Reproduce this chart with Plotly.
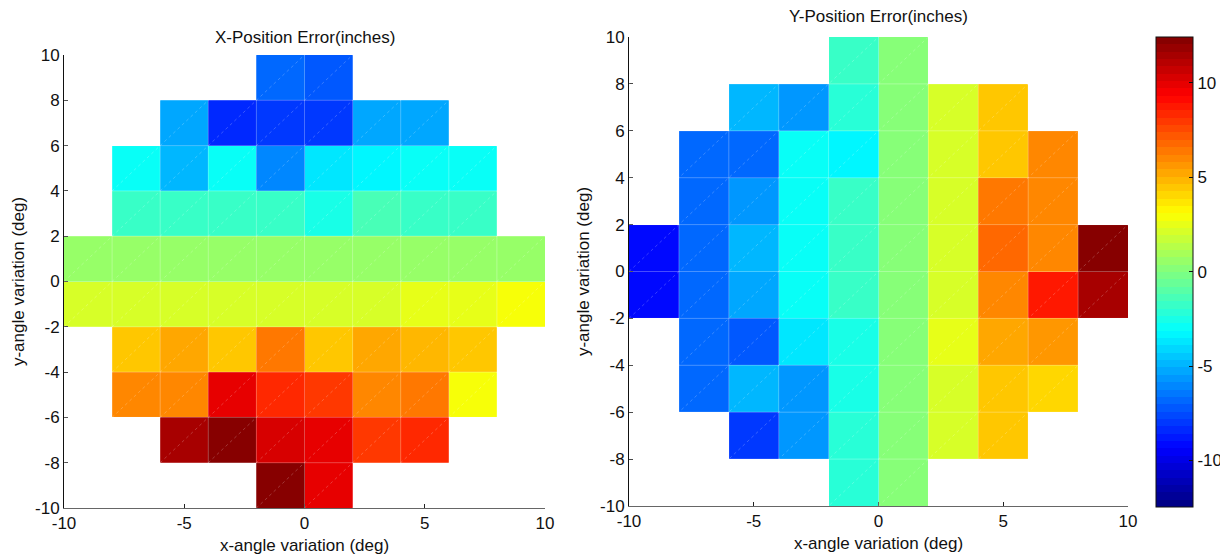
import plotly.graph_objects as go

N = None
x_centers = [-9, -7, -5, -3, -1, 1, 3, 5, 7, 9]
y_centers = [9, 7, 5, 3, 1, -1, -3, -5, -7, -9]

x_err = [
    [N, N, N, N, -7.0, -7.1, N, N, N, N],
    [N, N, -5.2, -8.2, -7.8, -8.0, -5.2, -5.1, N, N],
    [N, -3.1, -4.7, -3.1, -6.2, -3.7, -3.2, -3.1, -3.1, N],
    [N, -1.6, -1.6, -1.6, -1.6, -2.7, -1.2, -1.8, -1.6, N],
    [0.4, 0.4, 0.4, 0.4, 0.4, 0.4, 0.4, 0.4, 0.4, 0.4],
    [2.3, 2.3, 2.3, 2.3, 2.3, 2.3, 2.3, 2.5, 2.7, 3.1],
    [N, 4.3, 5.4, 4.3, 6.6, 4.3, 5.4, 5.0, 4.3, N],
    [N, 6.2, 6.2, 9.8, 8.2, 7.8, 6.2, 6.3, 3.1, N],
    [N, N, 11.6, 12.1, 10.2, 10.1, 7.8, 8.2, N, N],
    [N, N, N, N, 12.4, 9.8, N, N, N, N],
]

y_err = [
    [N, N, N, N, -1.6, 0.3, N, N, N, N],
    [N, N, -5.0, -5.5, -2.3, 0.3, 2.3, 4.3, N, N],
    [N, -6.8, -7.0, -3.1, -3.4, 0.3, 2.3, 4.3, 6.2, N],
    [N, -7.0, -5.5, -3.1, -1.6, 0.3, 2.3, 6.4, 6.2, N],
    [-9.3, -7.0, -5.0, -3.1, -1.6, 0.3, 2.3, 6.8, 6.2, 12.4],
    [-9.3, -7.0, -5.4, -3.1, -1.6, 0.3, 2.3, 6.0, 8.6, 11.3],
    [N, -7.0, -7.2, -3.7, -2.7, 0.3, 2.7, 5.4, 5.8, N],
    [N, -7.0, -5.0, -5.5, -2.7, 0.3, 2.3, 4.3, 3.9, N],
    [N, N, -7.8, -5.8, -2.3, 0.3, 2.3, 4.3, N, N],
    [N, N, N, N, -2.3, 0.3, N, N, N, N],
]

x_ticks = [-10, -5, 0, 5, 10]
y_ticks = [-10, -8, -6, -4, -2, 0, 2, 4, 6, 8, 10]
cbar_ticks = [-10, -5, 0, 5, 10]
c_min, c_max = -12.45, 12.45


def labels(vals):  # MATLAB-style labels with a plain hyphen minus
    return [str(v) for v in vals]


def jet(t):
    def seg(v):
        return max(0.0, min(1.0, v))
    r = seg(min(4 * t - 1.5, -4 * t + 4.5))
    g = seg(min(4 * t - 0.5, -4 * t + 3.5))
    b = seg(min(4 * t + 0.5, -4 * t + 2.5))
    return "rgb(%d,%d,%d)" % (round(r * 255), round(g * 255), round(b * 255))


n_levels = 64
jet_scale = []
for k in range(n_levels):
    c = jet((k + 0.5) / n_levels)
    jet_scale.append([k / n_levels, c])
    jet_scale.append([(k + 1) / n_levels, c])

FONT = "Liberation Sans, Arial, sans-serif"
FS = 17

# page has an 8px body margin; figure sized to fill the rest of the window
OFF = 8
W, H = 1228 - OFF, 558 - OFF


def px(p):  # page x pixel -> paper fraction
    return (p - OFF) / W


def py(p):  # page y pixel -> paper fraction
    return 1 - (p - OFF) / H


fig = go.Figure()
fig.add_trace(go.Heatmap(x=x_centers, y=y_centers, z=x_err, coloraxis="coloraxis",
                         xaxis="x", yaxis="y", hoverongaps=False))
fig.add_trace(go.Heatmap(x=x_centers, y=y_centers, z=y_err, coloraxis="coloraxis",
                         xaxis="x2", yaxis="y2", hoverongaps=False))

# faint cell-edge and diagonal rendering lines (MATLAB surface look)
edges = [c - 1 for c in x_centers] + [x_centers[-1] + 1]
shapes = []
for xr, yr in (("x", "y"), ("x2", "y2")):
    for e in edges[1:-1]:
        shapes.append(dict(type="line", xref=xr, yref=yr, x0=e, x1=e, y0=edges[0], y1=edges[-1],
                           line=dict(color="rgba(255,255,255,0.28)", width=1), layer="above"))
        shapes.append(dict(type="line", xref=xr, yref=yr, y0=e, y1=e, x0=edges[0], x1=edges[-1],
                           line=dict(color="rgba(255,255,255,0.28)", width=1), layer="above"))
    for k in range(-len(x_centers), len(x_centers) + 1):
        c = 2 * k
        shapes.append(dict(type="line", xref=xr, yref=yr,
                           x0=edges[0], y0=edges[0] + c, x1=edges[-1], y1=edges[-1] + c,
                           line=dict(color="rgba(255,255,255,0.22)", width=1, dash="dot"),
                           layer="above"))

axis_common = dict(showline=True, linewidth=1, ticks="inside", ticklen=4,
                   tickcolor="#222", showgrid=False, zeroline=False, mirror=False,
                   automargin=False,
                   tickfont=dict(family=FONT, size=FS, color="#111"), range=[-10, 10])
xcol = dict(linecolor="#666")
ycol = dict(linecolor="#111")

fig.update_layout(
    width=W, height=H,
    margin=dict(l=0, r=0, t=0, b=0, autoexpand=False),
    paper_bgcolor="white", plot_bgcolor="white",
    font=dict(family=FONT, color="#111"),
    showlegend=False,
    coloraxis=dict(colorscale=jet_scale, cmin=c_min, cmax=c_max,
                   colorbar=dict(x=px(1156), xanchor="left", y=py(271.7), yanchor="middle",
                                 lenmode="pixels", len=470, thickness=37, thicknessmode="pixels",
                                 outlinecolor="#111", outlinewidth=1, tickvals=cbar_ticks,
                                 ticktext=labels(cbar_ticks),
                                 ticks="inside", ticklen=4, tickcolor="#111",
                                 tickfont=dict(family=FONT, size=FS, color="#111"), xpad=0, ypad=0)),
    xaxis=dict(domain=[px(64), px(545)], anchor="y", tickvals=x_ticks, ticktext=labels(x_ticks),
               title=dict(text="x-angle variation (deg)", font=dict(family=FONT, size=FS), standoff=6),
               **axis_common, **xcol),
    yaxis=dict(domain=[py(508), py(55)], anchor="x", tickvals=y_ticks, ticktext=labels(y_ticks),
               title=dict(text="y-angle variation (deg)", font=dict(family=FONT, size=FS), standoff=6),
               **axis_common, **ycol),
    xaxis2=dict(domain=[px(629), px(1128)], anchor="y2", tickvals=x_ticks, ticktext=labels(x_ticks),
                title=dict(text="x-angle variation (deg)", font=dict(family=FONT, size=FS), standoff=6),
                **axis_common, **xcol),
    yaxis2=dict(domain=[py(506), py(37)], anchor="x2", tickvals=y_ticks, ticktext=labels(y_ticks),
                title=dict(text="y-angle variation (deg)", font=dict(family=FONT, size=FS), standoff=6),
                **axis_common, **ycol),
    shapes=shapes,
    annotations=[
        dict(text="X-Position Error(inches)", x=px((64 + 545) / 2), y=py(37),
             xref="paper", yref="paper", showarrow=False, font=dict(family=FONT, size=FS, color="#111"),
             xanchor="center", yanchor="middle"),
        dict(text="Y-Position Error(inches)", x=px((629 + 1128) / 2), y=py(17),
             xref="paper", yref="paper", showarrow=False, font=dict(family=FONT, size=FS, color="#111"),
             xanchor="center", yanchor="middle"),
    ],
)

fig.write_html("out.html")
